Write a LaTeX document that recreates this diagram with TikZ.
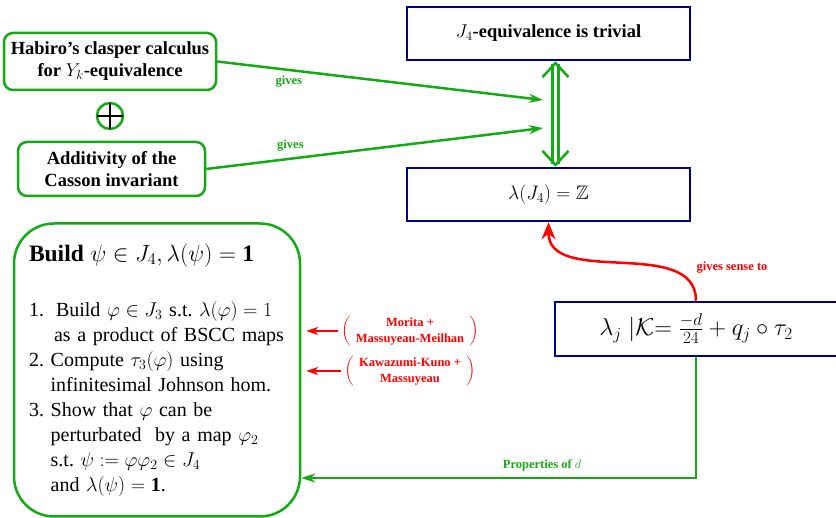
\documentclass[tikz,border=0pt]{standalone}
\usepackage{fix-cm}
\usepackage{amsmath}
\usepackage{amssymb}
\usepackage{fontspec}
\setmainfont{Liberation Serif}
\usetikzlibrary{arrows.meta}
\usetikzlibrary{positioning}

\definecolor{cgreen}{RGB}{20,170,20}
\definecolor{cnavy}{RGB}{0,0,140}
\definecolor{cred}{RGB}{255,0,0}

\tikzset{
  greenbox/.style={draw=cgreen, line width=2.5pt, rounded corners=9pt, align=center,
    inner sep=0pt, font=\fontsize{18.5}{22}\selectfont\bfseries},
  navybox/.style={draw=cnavy, line width=2.5pt, align=center, inner sep=0pt},
  greenarrow/.style={draw=cgreen, line width=2.5pt, -{Stealth[length=14pt,width=9pt]}},
  redarrow/.style={draw=cred, line width=1.5pt, -{Stealth[length=12pt,width=8pt]}},
  givelabel/.style={text=cgreen, font=\fontsize{12.5}{15}\selectfont\bfseries},
  reflabel/.style={text=cred, font=\fontsize{12.5}{16}\selectfont\bfseries},
}

\begin{document}
\begin{tikzpicture}[x=1pt,y=1pt]
		\useasboundingbox (0,0) rectangle (836,-518);
		% left column
		\node[greenbox, minimum width=212, minimum height=57] (habiro) at (110,-61.5)
		  {Habiro's clasper calculus\\for $Y_k$-equivalence};
		\node[circle, draw=cgreen, line width=2.5pt, minimum size=26, inner sep=0pt, outer sep=0pt] (plus) at (110,-116) {};
		\draw[line width=2.5pt] (plus.north) -- (plus.south) (plus.west) -- (plus.east);
		\node[greenbox, minimum width=187, minimum height=54] (additivity) at (111.5,-169)
		  {Additivity of the\\Casson invariant};
		
		% right column
		\node[navybox, minimum width=283, minimum height=53, font=\fontsize{18.5}{22}\selectfont\bfseries] (trivial) at (548.5,-33.5)
		  {$J_4$-equivalence is trivial};
		\node[navybox, minimum width=283, minimum height=53, font=\fontsize{19.5}{22}\selectfont] (lamZ) at (548.5,-194.5)
		  {$\lambda(J_4)=\mathbb{Z}$};
		\node[navybox, minimum width=282, minimum height=54, font=\fontsize{24.5}{25}\selectfont] (lamj) at (696,-329)
		  {$\lambda_j\;|\mathcal{K}{=}\;\frac{-d}{24}+q_j\circ\tau_2$};
		
		% construction
		\node[draw=cgreen, line width=2.5pt, rounded corners=40pt, minimum width=286, minimum height=293,
		  text width=256, inner xsep=15pt, align=left, font=\fontsize{20}{25}\selectfont\frenchspacing] (build) at (157,-370)
		  {{\fontsize{23.5}{25}\selectfont\bfseries Build $\psi\in J_4, \lambda(\psi)=\mathbf{1}$}\\[30pt]
		   1.\hspace{12pt}Build $\varphi\in J_3$ s.t. $\lambda(\varphi)=1$\\
		   \hspace*{25pt}as a product of BSCC maps\\
		   2. Compute $\tau_3(\varphi)$ using\\
		   \phantom{2. }infinitesimal Johnson hom.\\
		   3. Show that $\varphi$ can be\\
		   \phantom{3. }perturbated\ \ by a map $\varphi_2$\\
		   \phantom{3. }s.t. $\psi:=\varphi\varphi_2\in J_4$\\
		   \phantom{3. }and $\lambda(\psi)=\mathbf{1}$.};
		
		\node[reflabel] (morita) at (410,-331)
		  {$\left(\begin{tabular}{@{\ \,}c@{\ \,}}Morita +\\Massuyeau-Meilhan\end{tabular}\right)$};
		\node[reflabel] (kawa) at (410,-371)
		  {$\left(\begin{tabular}{@{\ \,}c@{\ \,}}Kawazumi-Kuno +\\Massuyeau\end{tabular}\right)$};
		
		\coordinate (g1) at (543,-100);
		\coordinate (g2) at (543,-128);
		\coordinate (corner) at (696,-478);
		
		% connectors
		\draw[greenarrow] (habiro.east) -- (g1) node[givelabel, pos=0.22, below=1pt] {gives};
		\draw[greenarrow] (additivity.east) -- (g2) node[givelabel, pos=0.25, above=3pt] {gives};
		\draw[cgreen, line width=2.5pt, double, double distance=3.5pt,
		  {Straight Barb[length=14pt,width=26pt,line width=2.5pt 0 0]}-{Straight Barb[length=14pt,width=26pt,line width=2.5pt 0 0]}]
		  ([xshift=7pt]trivial.south) -- ([xshift=7pt]lamZ.north);
		\draw[cred, line width=2.5pt, -{Stealth[length=17pt,width=14pt]}] (lamj.north) to[out=90, in=-90] (lamZ.south);
		\node[reflabel] (sense) at (732,-268) {gives sense to};
		\draw[redarrow, shorten >=5pt] (morita.west) -- (morita.west -| build.east);
		\draw[redarrow, shorten >=5pt] (kawa.west) -- (kawa.west -| build.east);
		\draw[greenarrow] (lamj.south) -- (corner) -- (corner -| build.east)
		  node[givelabel, pos=0.39, above=2pt] {Properties of $d$};
\end{tikzpicture}
\end{document}
